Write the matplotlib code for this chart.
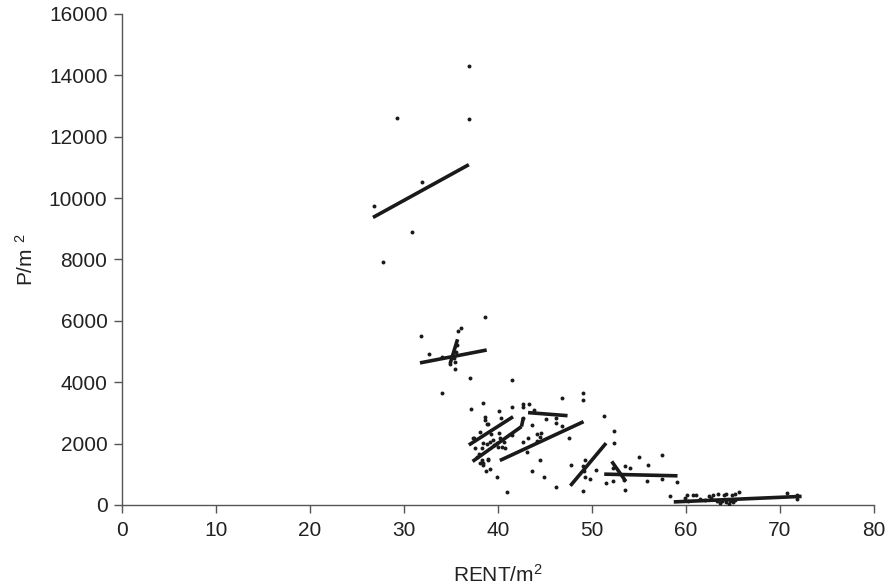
import numpy as np
import matplotlib.pyplot as plt

plt.rcParams['font.family'] = ['Liberation Sans', 'DejaVu Sans']
plt.rcParams['mathtext.fontset'] = 'custom'
plt.rcParams['mathtext.rm'] = 'Liberation Sans'
plt.rcParams['mathtext.it'] = 'Liberation Sans'

# scatter points
rent = [36.9, 29.3, 36.9, 31.9, 26.8, 30.8, 27.8,
        38.6, 31.8, 36.1, 35.7, 32.7, 34.0, 35.4, 34.9, 35.4, 37.0, 41.5, 34.0,
        35.6, 35.5, 35.3,
        37.1, 38.4, 40.1, 41.5, 42.7, 43.3, 42.7, 43.8, 46.8, 49.0, 49.0,
        51.3, 52.3, 52.3, 55.0, 57.5, 56.0, 54.0, 53.5, 53.4, 53.5, 51.5,
        52.2, 52.2, 55.9, 57.4, 59.0, 58.3,
        47.8, 49.3, 49.0, 49.2, 49.8, 49.3, 50.4, 49.0, 46.2, 44.9, 44.5,
        43.6, 41.0, 39.9, 39.1, 38.7, 38.4, 38.1, 38.9, 37.6, 37.4, 38.1,
        38.6, 38.6, 38.9, 40.3, 38.4, 38.8, 38.3, 39.1, 39.5, 39.9, 40.2,
        40.4, 40.7, 40.0, 40.1, 41.5, 42.7, 43.6, 42.7, 43.2, 43.1, 44.1,
        44.6, 44.5, 44.1, 45.1, 46.2, 46.8, 47.6, 46.2,
        38.8, 37.3, 38.3, 38.9, 38.4, 39.6, 40.6, 39.3, 38.0, 37.8,
        60.1, 60.7, 61.1, 60.2, 62.4, 62.9, 63.4, 64.0, 64.3, 64.9, 65.2,
        65.6, 63.3, 63.8, 64.3, 64.7, 65.0, 65.2, 62.7, 70.8, 71.8, 71.8,
        59.9, 61.5, 63.6, 64.6, 62.0]
price = [14300, 12610, 12590, 10510, 9735, 8900, 7920,
         6120, 5505, 5765, 5660, 4930, 4825, 4660, 4610, 4415, 4130, 4065, 3655,
         5200, 5000, 4800,
         3125, 3320, 3060, 3190, 3300, 3300, 3190, 3105, 3470, 3655, 3420,
         2900, 2410, 2020, 1560, 1620, 1290, 1200, 1255, 820, 500, 715,
         770, 1200, 770, 845, 735, 280,
         1310, 1470, 1275, 1095, 855, 910, 1125, 465, 575, 910, 1450,
         1115, 410, 910, 1170, 1115, 1290, 1360, 1490, 1850, 2195, 2370,
         2880, 2770, 2630, 2825, 2010, 1980, 1850, 2065, 2120, 2010, 2175,
         1905, 1870, 1905, 2335, 2280, 2825, 2605, 2065, 2175, 1740, 2305,
         2335, 2230, 2085, 2790, 2845, 2585, 2175, 2660,
         2640, 2195, 1470, 1470, 1360, 1950, 2050, 2300, 1650, 1550,
         335, 335, 335, 140, 280, 335, 355, 335, 355, 335, 355,
         420, 120, 120, 97, 120, 97, 172, 227, 390, 335, 205,
         227, 205, 60, 40, 150]

# fitted segments (x0, x1, y0, y1)
seg_x0 = [26.7, 31.7, 34.9, 36.9, 37.3, 42.5, 40.2, 43.2, 47.7, 51.3, 52.1, 58.7]
seg_x1 = [36.9, 38.8, 35.7, 41.6, 42.5, 42.7, 49.1, 47.4, 51.5, 59.1, 53.6, 72.3]
seg_y0 = [9370, 4630, 4600, 1955, 1420, 2555, 1450, 3010, 625, 1005, 1420, 100]
seg_y1 = [11090, 5050, 5400, 2875, 2555, 2845, 2715, 2910, 2015, 950, 770, 280]

fig = plt.figure(figsize=(8.88, 5.88), dpi=100)
ax = fig.add_axes([0.1374, 0.1412, 0.8468, 0.835])

ax.scatter(rent, price, s=8, color='#1a1a1a', linewidths=0, zorder=3)
for i in range(len(seg_x0)):
    ax.plot([seg_x0[i], seg_x1[i]], [seg_y0[i], seg_y1[i]],
            color='#1a1a1a', lw=2.6, solid_capstyle='butt', zorder=4)

ax.set_xlim(0, 80)
ax.set_ylim(0, 16000)
ax.set_xticks(np.arange(0, 81, 10))
ax.set_yticks(np.arange(0, 16001, 2000))
for s in ['top', 'right']:
    ax.spines[s].set_visible(False)
for s in ['left', 'bottom']:
    ax.spines[s].set_color('#555555')
    ax.spines[s].set_linewidth(1.0)
ax.tick_params(direction='out', length=5.5, width=1.0, color='#555555',
               labelsize=15, labelcolor='#222222')
ax.tick_params(axis='x', pad=6)
ax.tick_params(axis='y', pad=5)

ax.set_xlabel(r'RENT/m$^2$', fontsize=15, color='#222222', labelpad=17)
ax.set_ylabel(r'P/m $^2$', fontsize=15, color='#222222', labelpad=9)

fig.savefig('out.png', dpi=100)
